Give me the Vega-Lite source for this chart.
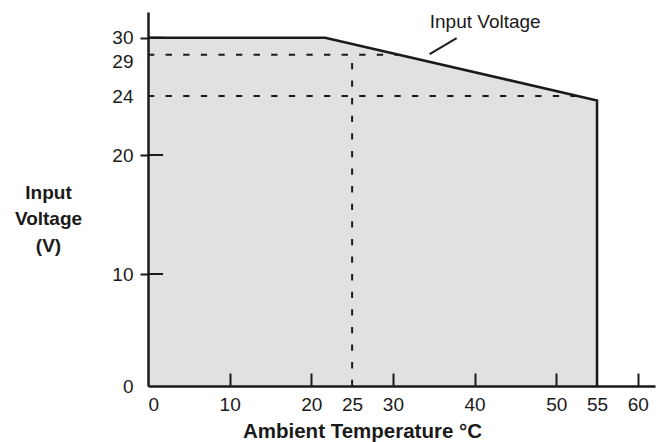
{
  "$schema": "https://vega.github.io/schema/vega-lite/v6.json",
  "width": 507,
  "height": 374,
  "autosize": {"type": "none"},
  "padding": {"left": 148, "top": 12, "right": 1, "bottom": 56},
  "background": "white",
  "config": {"view": {"stroke": null}, "font": "Liberation Sans"},
  "datasets": {
    "boundary": [
      {"temp": 0, "volt": 30, "i": 0},
      {"temp": 21.7, "volt": 30, "i": 1},
      {"temp": 55, "volt": 23.7, "i": 2},
      {"temp": 55, "volt": 0, "i": 3}
    ],
    "guides": [
      {"x1": 0, "x2": 30.6, "y1": 29, "y2": 29},
      {"x1": 0, "x2": 52.4, "y1": 24, "y2": 24},
      {"x1": 25, "x2": 25, "y1": 0, "y2": 29}
    ],
    "innerTicks": [{"v": 10}, {"v": 20}, {"v": 30}],
    "label": [{"text": "Input Voltage", "x": 41.3, "y": 30.57}],
    "leader": [{"x1": 34.5, "x2": 37.8, "y1": 29.04, "y2": 29.98}]
  },
  "layer": [
    {
      "data": {"name": "boundary"},
      "transform": [{"filter": "datum.i < 3"}],
      "mark": {"type": "area", "color": "#e0e1e3"},
      "encoding": {
        "x": {
          "field": "temp", "type": "quantitative",
          "scale": {"domain": [0, 62.1], "nice": false, "zero": false},
          "axis": {
            "zindex": 1,
            "values": [0, 10, 20, 25, 30, 40, 50, 55, 60],
            "title": "Ambient Temperature °C",
            "grid": false,
            "domainColor": "#1a1a1a", "domainWidth": 2.5,
            "tickColor": "#1a1a1a", "tickWidth": 2, "tickSize": -13,
            "tickOpacity": {"condition": {"test": "datum.value == 25 || datum.value == 55 || datum.value == 0", "value": 0}, "value": 1},
            "labelFontSize": 19, "labelColor": "#1a1a1a", "labelPadding": 22,
            "labelFlush": true, "labelOverlap": false,
            "titleFontSize": 20.5, "titleFontWeight": "bold", "titleColor": "#1a1a1a",
            "titleX": 214, "titleY": 51, "titleAlign": "center", "titleBaseline": "alphabetic"
          }
        },
        "y": {
          "field": "volt", "type": "quantitative",
          "scale": {"domain": [0, 10, 20, 24, 29, 30, 31.5], "range": [374, 262, 143, 84, 42.7, 25.7, 0], "nice": false, "zero": false},
          "axis": {
            "zindex": 1,
            "values": [0, 10, 20, 24, 29, 30],
            "title": ["Input", "Voltage", "(V)"],
            "titleAngle": 0, "titleX": -100, "titleY": 186,
            "titleAlign": "center", "titleBaseline": "alphabetic", "titleLineHeight": 26.7,
            "titleFontSize": 19, "titleFontWeight": "bold", "titleColor": "#1a1a1a",
            "grid": false,
            "domainColor": "#1a1a1a", "domainWidth": 2.5,
            "tickColor": "#1a1a1a", "tickWidth": 2, "tickSize": 8,
            "tickOpacity": {"condition": {"test": "datum.value == 24 || datum.value == 29 || datum.value == 0", "value": 0}, "value": 1},
            "labelFontSize": 19, "labelColor": "#1a1a1a", "labelPadding": 7,
            "labelOverlap": false, "labelFlush": false,
            "labelOffset": {"condition": {"test": "datum.value == 29", "value": 7}, "value": 0}
          }
        }
      }
    },
    {
      "data": {"name": "guides"},
      "mark": {"type": "rule", "color": "#1a1a1a", "strokeWidth": 2, "strokeDash": [6.3, 11.3]},
      "encoding": {
        "x": {"field": "x1", "type": "quantitative"},
        "x2": {"field": "x2"},
        "y": {"field": "y1", "type": "quantitative"},
        "y2": {"field": "y2"}
      }
    },
    {
      "data": {"name": "innerTicks"},
      "mark": {"type": "rule", "color": "#1a1a1a", "strokeWidth": 2},
      "encoding": {
        "x": {"datum": 0, "type": "quantitative"},
        "x2": {"datum": 1.85},
        "y": {"field": "v", "type": "quantitative"}
      }
    },
    {
      "data": {"name": "boundary"},
      "mark": {"type": "line", "color": "#1a1a1a", "strokeWidth": 2.5},
      "encoding": {
        "x": {"field": "temp", "type": "quantitative"},
        "y": {"field": "volt", "type": "quantitative"},
        "order": {"field": "i", "type": "quantitative"}
      }
    },
    {
      "data": {"name": "leader"},
      "mark": {"type": "rule", "color": "#1a1a1a", "strokeWidth": 2},
      "encoding": {
        "x": {"field": "x1", "type": "quantitative"},
        "x2": {"field": "x2"},
        "y": {"field": "y1", "type": "quantitative"},
        "y2": {"field": "y2"}
      }
    },
    {
      "data": {"name": "label"},
      "mark": {"type": "text", "fontSize": 19, "color": "#1a1a1a", "align": "center", "baseline": "alphabetic"},
      "encoding": {
        "x": {"field": "x", "type": "quantitative"},
        "y": {"field": "y", "type": "quantitative"},
        "text": {"field": "text"}
      }
    }
  ]
}
